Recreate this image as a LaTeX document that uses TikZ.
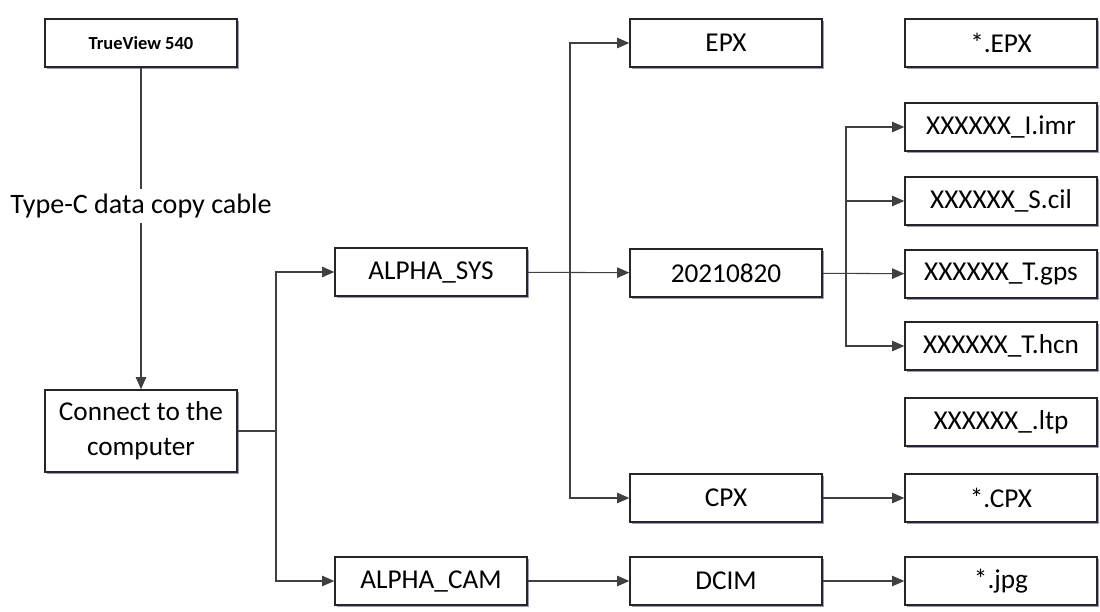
\documentclass[tikz,border=0pt]{standalone}
\usepackage{fontspec}
\setmainfont{Carlito}
\usepackage{xcolor}
\usepackage{tikz}
\usetikzlibrary{arrows.meta, positioning, shadows, calc}

\begin{document}
\begin{tikzpicture}[
    x=0.02cm, y=-0.02cm,
    box/.style={draw=black!85, line width=0.8pt, fill=white, minimum width=3.84cm, minimum height=0.96cm, align=center, font=\fontsize{15.5}{19}\selectfont,
        drop shadow={shadow xshift=0.9pt, shadow yshift=-1.4pt, fill=blue!25!gray!70, opacity=0.9}},
    arr/.style={-{Triangle[length=7pt, width=6pt]}, line width=0.6pt, draw=black!75},
    lin/.style={line width=0.6pt, draw=black!75},
]
\useasboundingbox (0,0) rectangle (1100,612);

% left column
\node[box, font=\fontsize{10.5}{12}\selectfont\bfseries] (tv) at (141,43) {TrueView 540};
\node[box, minimum height=1.64cm, font=\fontsize{15.5}{20}\selectfont] (conn) at (141,431) {Connect to the\\computer};

% folders
\node[box] (sys) at (431,272) {ALPHA\_SYS};
\node[box] (cam) at (431,581) {ALPHA\_CAM};

\node[box] (epx) at (726,43) {EPX};
\node[box] (date) at (726,273) {20210820};
\node[box] (cpx) at (726,498) {CPX};
\node[box] (dcim) at (726,581) {DCIM};

% files
\node[box] (fepx) at (1001,43) {*.EPX};
\node[box] (imr) at (1001,127) {XXXXXX\_I.imr};
\node[box] (cil) at (1001,201) {XXXXXX\_S.cil};
\node[box] (gps) at (1001,274) {XXXXXX\_T.gps};
\node[box] (hcn) at (1001,346) {XXXXXX\_T.hcn};
\node[box] (ltp) at (1001,422) {XXXXXX\_.ltp};
\node[box] (fcpx) at (1001,498) {*.CPX};
\node[box] (jpg) at (1001,581) {*.jpg};

\coordinate (j1) at (276,431);
\coordinate (j2) at (570,272);
\coordinate (j3) at (846,274);

\draw[arr] (tv) -- node[pos=0.43, fill=white, text=black, font=\fontsize{16}{19}\selectfont, inner sep=3pt] {Type-C data copy cable} (conn);

\draw[lin] (conn) -- (j1);
\draw[arr] (j1) |- (sys);
\draw[arr] (j1) |- (cam);

\draw[arr] (sys) -- (date);
\draw[arr] (j2) |- (epx);
\draw[arr] (j2) |- (cpx);

\draw[arr] (date) -- (gps);
\draw[arr] (j3) |- (imr);
\draw[arr] (j3) |- (cil);
\draw[arr] (j3) |- (hcn);

\draw[arr] (cpx) -- (fcpx);
\draw[arr] (cam) -- (dcim);
\draw[arr] (dcim) -- (jpg);

\end{tikzpicture}
\end{document}
